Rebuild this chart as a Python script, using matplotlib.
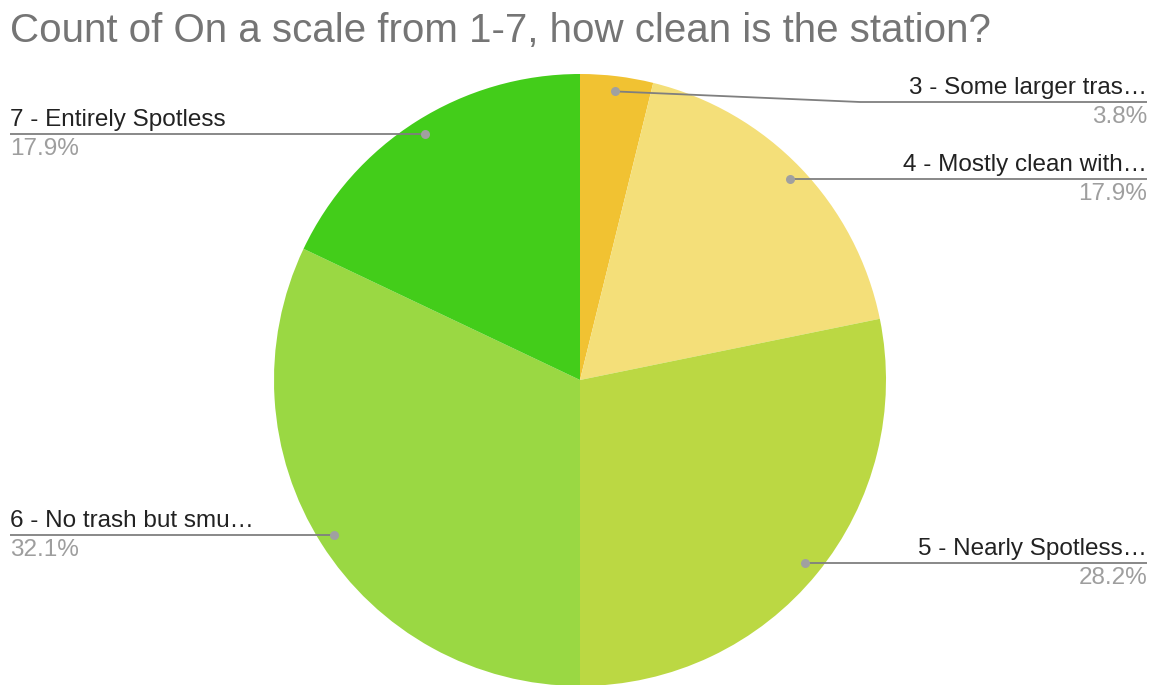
import numpy as np
import matplotlib
matplotlib.use("Agg")
import matplotlib.pyplot as plt

plt.rcParams["font.family"] = ["Liberation Sans", "DejaVu Sans"]

title = "Count of On a scale from 1-7, how clean is the station?"
labels = [
    "3 - Some larger tras\u2026",
    "4 - Mostly clean with\u2026",
    "5 - Nearly Spotless\u2026",
    "6 - No trash but smu\u2026",
    "7 - Entirely Spotless",
]
counts = [3, 14, 22, 25, 14]
colors = ["#F1C232", "#F4DF79", "#BBD843", "#9AD843", "#43CD1A"]

W, H = 1156, 685
fig = plt.figure(figsize=(W / 100, H / 100), dpi=100)
ax = fig.add_axes([0, 0, 1, 1])

def Y(py):
    return H - py

cx, cy, r = 580, Y(380), 306
wedges, _ = ax.pie(counts, colors=colors, startangle=90, counterclock=False,
                   center=(cx, cy), radius=r,
                   wedgeprops=dict(linewidth=0))
ax.set_xlim(0, W)
ax.set_ylim(0, H)
ax.set_aspect("equal")
ax.axis("off")

total = sum(counts)
pcts = [100.0 * c / total for c in counts]

# label placement: side, leader line y (px), elbow x (None = straight)
layout = [
    ("right", 102, 860),
    ("right", 179, None),
    ("right", 563, None),
    ("left", 535, None),
    ("left", 134, None),
]

line_col = "#7f7f7f"
dot_col = "#a0a0a0"
for w, lab, p, (side, ly, ex) in zip(wedges, labels, pcts, layout):
    mid = np.deg2rad((w.theta1 + w.theta2) / 2)
    dx = cx + 0.95 * r * np.cos(mid)
    dy = cy + 0.95 * r * np.sin(mid)
    if side == "right":
        end = 1147
        ha = "right"
    else:
        end = 10
        ha = "left"
    if ex is None:
        xs = [dx, end]
        ys = [Y(ly), Y(ly)]
    else:
        xs = [dx, ex, end]
        ys = [dy, Y(ly), Y(ly)]
    ax.plot(xs, ys, color=line_col, lw=1.3, solid_capstyle="butt", zorder=3)
    ax.plot([dx], [ys[0]], "o", color=dot_col, ms=6.5, mec="none", zorder=4)
    ax.text(end, Y(ly - 8), lab, ha=ha, va="baseline", fontsize=17.5,
            color="#222222")
    ax.text(end, Y(ly + 21), f"{p:.1f}%", ha=ha, va="baseline", fontsize=17.5,
            color="#9e9e9e")

ax.text(10, Y(42), title, ha="left", va="baseline", fontsize=29,
        color="#757575")

fig.savefig("out.png", dpi=100)
